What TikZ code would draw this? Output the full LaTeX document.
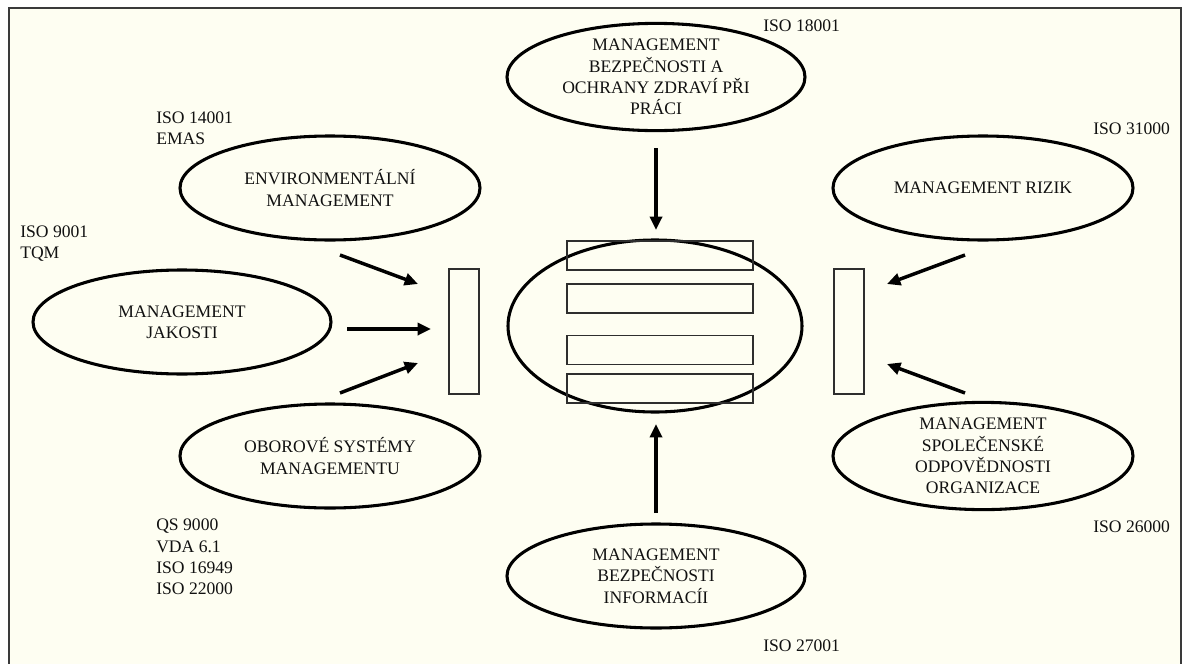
\documentclass[tikz,border=0pt]{standalone}
\usepackage{fontspec}
\setmainfont{Liberation Serif}
\usetikzlibrary{shapes.geometric,arrows.meta}
\definecolor{bg}{HTML}{FEFEF2}
\definecolor{frame}{HTML}{3A3A3A}
\definecolor{txt}{HTML}{111111}
\definecolor{boxline}{HTML}{2E2E2E}
\begin{document}
\begin{tikzpicture}[x=0.75pt,y=-0.75pt,
  every node/.style={font=\fontsize{13.2pt}{16pt}\selectfont, text=txt},
  sys/.style={ellipse, draw=black, line width=2.3pt, align=center, inner sep=0pt,
              minimum width=223.5pt, minimum height=78pt},
  box/.style={rectangle, draw=boxline, line width=1.4pt, inner sep=0pt},
  hbar/.style={box, minimum width=139.5pt, minimum height=21.75pt},
  vbar/.style={box, minimum width=22.5pt, minimum height=93.75pt},
  std/.style={align=left, anchor=west, inner sep=0pt},
  flow/.style={-{Triangle[length=10pt,width=9pt]}, line width=2.6pt, draw=black}]

\useasboundingbox (0,0) rectangle (1183,664);
\clip (0,0) rectangle (1183,664);
\fill[white] (0,0) rectangle (1183,664);
\fill[bg] (9,8) rectangle (1181,700);
\draw[frame, line width=1.6pt] (9,700) -- (9,8) -- (1181,8) -- (1181,700);

% systems
\node[sys] (bozp) at (656,77) {MANAGEMENT\\BEZPEČNOSTI A\\OCHRANY ZDRAVÍ PŘI\\PRÁCI};
\node[sys, minimum width=225pt] (env) at (330,188) {ENVIRONMENTÁLNÍ\\MANAGEMENT};
\node[sys] (jak) at (182,322) {MANAGEMENT\\JAKOSTI};
\node[sys, minimum width=225pt] (obo) at (330,456) {OBOROVÉ SYSTÉMY\\MANAGEMENTU};
\node[sys, minimum width=225pt] (riz) at (983,188) {MANAGEMENT RIZIK};
\node[sys, minimum width=225pt] (spol) at (983,456) {MANAGEMENT\\SPOLEČENSKÉ\\ODPOVĚDNOSTI\\ORGANIZACE};
\node[sys] (inf) at (656,576) {MANAGEMENT\\BEZPEČNOSTI\\INFORMACÍI};
\node[sys, minimum width=220.5pt, minimum height=129pt] (core) at (655,326) {};

% bars
\node[hbar] (r1) at (660,255.5) {};
\node[hbar] (r2) at (660,298.5) {};
\node[hbar] (r3) at (660,350) {};
\node[hbar] (r4) at (660,388.5) {};
\node[vbar] (lbar) at (464,331.5) {};
\node[vbar] (rbar) at (849,331.5) {};

% standards
\node[std] (iso14) at (156,128.5) {ISO 14001\\EMAS};
\node[std] (iso9) at (20,243.5) {ISO 9001\\TQM};
\node[std] (qs) at (156,557) {QS 9000\\VDA 6.1\\ISO 16949\\ISO 22000};
\node[std] (iso18) at (763,26) {ISO 18001};
\node[std] (iso27) at (763,646) {ISO 27001};
\node[std] (iso31) at (1093,129) {ISO 31000};
\node[std] (iso26) at (1093,527) {ISO 26000};

% arrow ends
\coordinate (a1s) at (340,255); \coordinate (a1e) at (418,284);
\coordinate (a2s) at (347,329); \coordinate (a2e) at (431,329);
\coordinate (a3s) at (340,393); \coordinate (a3e) at (418,363);
\coordinate (a4s) at (965,255); \coordinate (a4e) at (887,284);
\coordinate (a5s) at (965,393); \coordinate (a5e) at (887,364);
\coordinate (a6s) at (656,148); \coordinate (a6e) at (656,230);
\coordinate (a7s) at (656,513); \coordinate (a7e) at (656,424);

\draw[flow] (a1s) -- (a1e);
\draw[flow] (a2s) -- (a2e);
\draw[flow] (a3s) -- (a3e);
\draw[flow] (a4s) -- (a4e);
\draw[flow] (a5s) -- (a5e);
\draw[flow] (a6s) -- (a6e);
\draw[flow] (a7s) -- (a7e);
\end{tikzpicture}
\end{document}
